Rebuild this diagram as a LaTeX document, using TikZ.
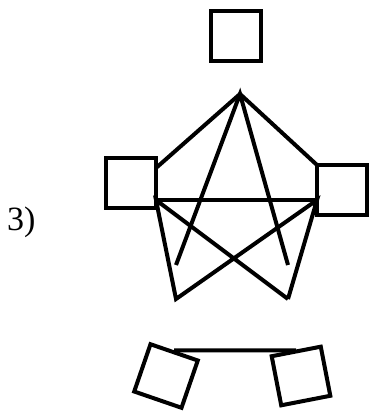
\documentclass[tikz,border=0pt]{standalone}
\usepackage{fontspec}
\setmainfont{Liberation Serif}
\begin{document}
\begin{tikzpicture}[x=1pt,y=-1pt,
  box/.style={draw,line width=4pt,minimum size=50pt,inner sep=0pt,
    outer sep=0pt},
  link/.style={line width=4pt},
  tag/.style={font=\fontsize{34}{40}\selectfont,inner sep=0pt,
    anchor=base west}
]
  \useasboundingbox (0,0) rectangle (372,415);

  \node[box] (top) at (235.5,36) {};
  \node[box] (left) at (131,182.5) {};
  \node[box] (right) at (342,190) {};
  \node[box,rotate=-19] (botl) at (166,376) {};
  \node[box,rotate=11] (botr) at (301,376) {};
  \node[tag] (num) at (7,230) {3)};

  \coordinate (apex) at (240,94);
  \coordinate (sl) at (176,265);
  \coordinate (sr) at (288,265);
  \coordinate (pl) at (176,299);
  \coordinate (pr) at (288,299);
  \coordinate (lj) at ([yshift=-17.5pt]left.east);
  \coordinate (rj) at ([yshift=-10pt]right.west);

  \draw[link] ([yshift=14.5pt]left.east) -- (apex) -- (right.north west);
  \draw[link] (sl) -- (apex) -- (sr);
  \draw[link] (lj) -- (rj);
  \draw[link] (pr) -- (lj) -- (pl) -- (rj) -- (pr);
  \draw[link] ([yshift=2pt]botl.north) -- ([yshift=1pt]botr.north);
\end{tikzpicture}
\end{document}
